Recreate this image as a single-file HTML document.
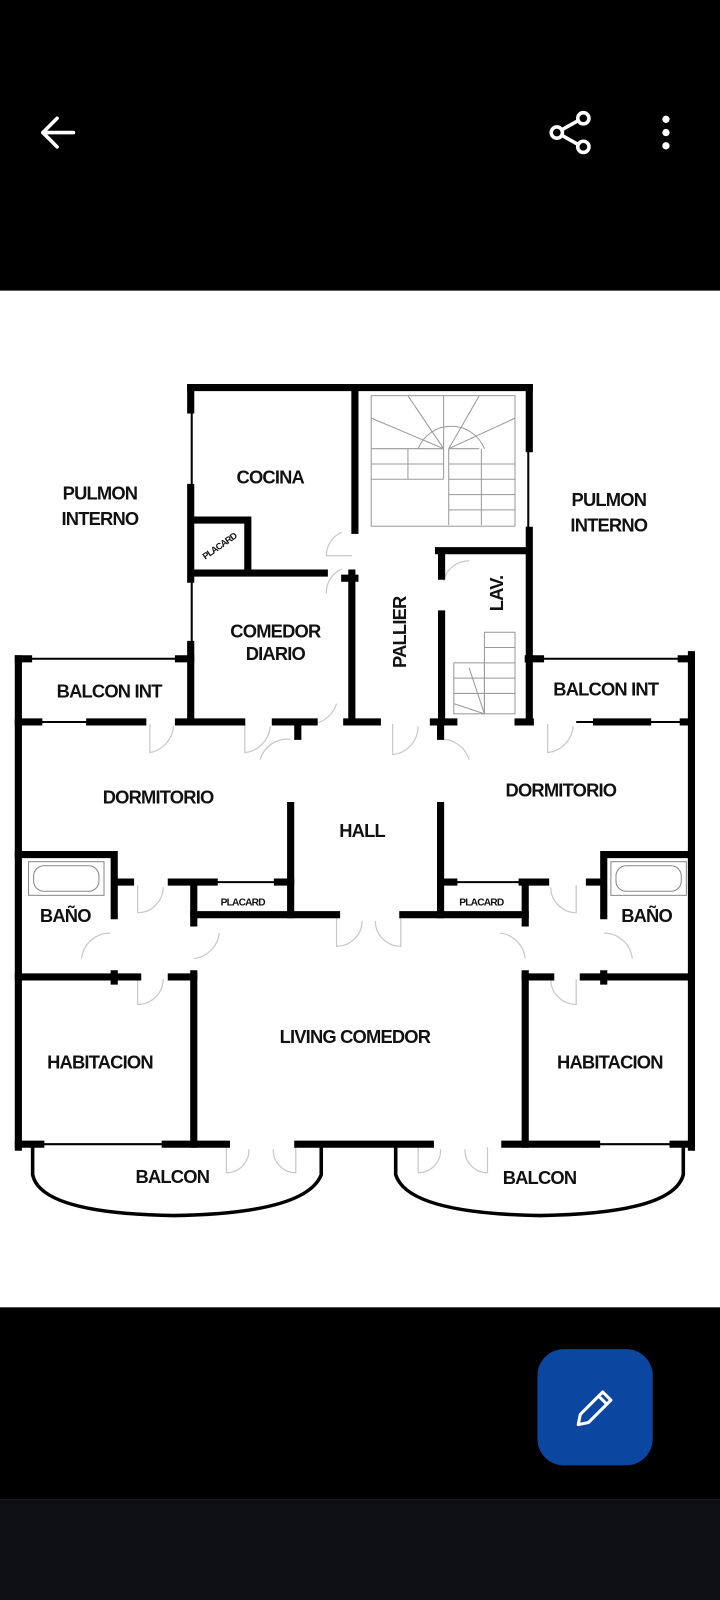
<!DOCTYPE html>
<html><head><meta charset="utf-8"><style>
html,body{margin:0;padding:0;width:720px;height:1600px;overflow:hidden;background:#fff}
svg{display:block}
text{font-family:"Liberation Sans",sans-serif;font-weight:bold;fill:#111;letter-spacing:-0.8px}
</style></head><body>
<svg width="720" height="1600" viewBox="0 0 706 1569" preserveAspectRatio="none" xmlns="http://www.w3.org/2000/svg">
<rect x="0" y="0" width="720" height="285" fill="#000"/>
<rect x="0" y="1282" width="720" height="188" fill="#000"/>
<rect x="0" y="1470" width="720" height="130" fill="#0e1014"/>
<g stroke="#fff" stroke-width="3.5" fill="none" stroke-linecap="round" stroke-linejoin="round">
<path d="M72 130 H42 M56 116 L42 130 L56 144"/>
<path d="M571 116 L546 130 L571 144"/>
</g>
<g fill="#000" stroke="#fff" stroke-width="3.5"><circle cx="572" cy="116" r="5.5"/><circle cx="546" cy="130" r="5.5"/><circle cx="572" cy="144" r="5.5"/></g>
<g fill="#fff"><circle cx="653" cy="117" r="3.6"/><circle cx="653" cy="130" r="3.6"/><circle cx="653" cy="143" r="3.6"/></g>
<rect x="527" y="1323" width="113" height="114" rx="26" fill="#0b47a0"/>
<g stroke="#fff" stroke-width="3" fill="none" stroke-linejoin="round"><path d="M567 1397 L569 1387 L591 1365 L599 1373 L577 1395 Z M587 1369 L595 1377"/></g>

<g stroke="#c8c8c8" stroke-width="1.2" fill="none">
<path d="M147 710 V738 A28 28 0 0 0 170 712"/>
<path d="M240 710 V738 A28 28 0 0 0 265 712"/>
<path d="M305 710 A28 28 0 0 0 330 690"/>
<path d="M255 745 A28 28 0 0 1 285 725"/>
<path d="M385 710 V740 A28 28 0 0 0 410 712"/>
<path d="M460 745 A28 28 0 0 0 432 725"/>
<path d="M537 710 V738 A28 28 0 0 0 562 712"/>
<path d="M335 522 A25 25 0 0 0 320 545 H345"/>
<path d="M335 558 A25 25 0 0 0 320 582"/>
<path d="M435 570 A25 25 0 0 1 460 550"/>
<path d="M330 900 V928 A25 25 0 0 0 355 903"/>
<path d="M393 900 V928 A25 25 0 0 1 368 903"/>
<path d="M135 868 V895 A25 25 0 0 0 160 870"/>
<path d="M80 940 A28 28 0 0 1 108 915"/>
<path d="M215 915 A28 28 0 0 1 190 940"/>
<path d="M135 960 V985 A25 25 0 0 0 160 960"/>
<path d="M565 868 V895 A25 25 0 0 1 540 870"/>
<path d="M490 915 A28 28 0 0 1 515 940"/>
<path d="M620 940 A28 28 0 0 0 592 915"/>
<path d="M565 960 V985 A25 25 0 0 1 540 960"/>
<path d="M222 1125 V1150 A22 22 0 0 0 244 1127"/>
<path d="M290 1125 V1150 A22 22 0 0 1 268 1127"/>
<path d="M410 1125 V1150 A22 22 0 0 0 432 1127"/>
<path d="M478 1125 V1150 A22 22 0 0 1 456 1127"/>
</g>

<g stroke="#999" stroke-width="1" fill="none">
<rect x="364" y="388" width="141" height="128"/>
<line x1="435" y1="388" x2="435" y2="470"/>
<path d="M364 440 H435 M364 455 H435 M364 470 H435 M400 440 V470"/>
<path d="M440 440 H470 M440 455 H505 M440 470 H505 M440 485 H505 M440 500 H505 M472 440 V515 M440 440 V515"/>
<path d="M410 440 A35 35 0 0 1 475 440"/>
<path d="M364 410 L435 440 M400 388 L435 440 M470 388 L440 440 M505 410 L440 440"/>
<rect x="475" y="620" width="30" height="80"/>
<rect x="445" y="650" width="30" height="50"/>
<path d="M475 635 H505 M475 650 H505 M475 665 H505 M475 680 H505 M445 665 H475 M445 680 H475 M475 700 L445 690 M475 700 L460 655"/>
</g>

<g stroke="#888" stroke-width="1" fill="none">
<rect x="28" y="845" width="74" height="33"/><rect x="33" y="849" width="64" height="25" rx="10"/>
<rect x="599" y="845" width="74" height="33"/><rect x="604" y="849" width="64" height="25" rx="10"/>
</g>

<g stroke="#000" stroke-width="2" fill="none">
<line x1="188" y1="400" x2="188" y2="475"/><line x1="188" y1="570" x2="188" y2="630"/>
<line x1="518" y1="440" x2="518" y2="520"/>
<line x1="18" y1="646" x2="184" y2="646"/><line x1="518" y1="646" x2="678" y2="646"/>
<line x1="18" y1="708" x2="140" y2="708"/><line x1="565" y1="708" x2="678" y2="708"/>
<line x1="190" y1="865" x2="285" y2="865"/><line x1="432" y1="865" x2="515" y2="865"/>
<line x1="18" y1="1122" x2="165" y2="1122"/><line x1="585" y1="1122" x2="678" y2="1122"/>
</g>
<g stroke="#000" stroke-width="7" fill="none" stroke-linecap="square">
<path d="M187 380 H519"/>
<path d="M187 380 V402 M187 478 V568 M187 632 V708"/>
<path d="M348 380 V520 M345 562 V705 M338 567 H348"/>
<path d="M519 380 V440 M519 520 V708"/>
<path d="M430 540 H516 M433 540 V565 M433 602 V705"/>
<path d="M190 510 H243 V562 M190 562 H318"/>
<path d="M18 646 V1125 M678 642 V1125"/>
<path d="M18 646 H28 M175 646 H187 M518 646 H530 M668 646 H678"/>
<path d="M18 708 H38 M88 708 H140 M175 708 H237 M270 708 H308 M292 708 V722 M340 708 H370 M425 708 H445 M432 708 V722 M508 708 H520 M585 708 H635 M670 708 H678"/>
<path d="M285 790 V897 M432 790 V897"/>
<path d="M190 897 H330 M395 897 H515"/>
<path d="M18 838 H112 V898 M112 955 V962 M112 865 H128 M168 865 H210 M272 865 H285 M190 865 V905 M190 955 V1122"/>
<path d="M18 958 H135 M168 958 H190"/>
<path d="M678 838 H592 V898 M592 955 V962 M592 865 H578 M535 865 H512 M435 865 H445 M515 865 V905 M515 955 V1122"/>
<path d="M515 958 H540 M572 958 H678"/>
<path d="M18 1122 H40 M162 1122 H222 M292 1122 H422 M495 1122 H585 M660 1122 H678"/>
</g>
<g stroke="#000" stroke-width="3.5" fill="none">
<path d="M32 1124 V1152 Q40 1190 170 1192 Q300 1190 315 1152 V1124"/>
<path d="M388 1124 V1152 Q400 1190 530 1192 Q660 1190 670 1152 V1124"/>
</g>

<g font-size="18" text-anchor="middle">
<text x="98" y="490">PULMON</text><text x="98" y="515">INTERNO</text>
<text x="597" y="496">PULMON</text><text x="597" y="521">INTERNO</text>
<text x="265" y="474">COCINA</text>
<text x="270" y="625">COMEDOR</text><text x="270" y="647">DIARIO</text>
<text x="107" y="684">BALCON INT</text><text x="594" y="682">BALCON INT</text>
<text x="155" y="788">DORMITORIO</text><text x="550" y="781">DORMITORIO</text>
<text x="355" y="821">HALL</text>
<text x="64" y="904">BAÑO</text><text x="634" y="904">BAÑO</text>
<text x="348" y="1023">LIVING COMEDOR</text>
<text x="98" y="1048">HABITACION</text><text x="598" y="1048">HABITACION</text>
<text x="169" y="1160">BALCON</text><text x="529" y="1161">BALCON</text>
<text transform="translate(398 620) rotate(-90)">PALLIER</text>
<text transform="translate(493 582) rotate(-90)">LAV.</text>
</g>
<g font-size="10" text-anchor="middle">
<text x="238" y="888">PLACARD</text><text x="472" y="888">PLACARD</text>
<text transform="translate(217 538) rotate(-35)" font-size="9">PLACARD</text>
</g>
</svg>
</body></html>
